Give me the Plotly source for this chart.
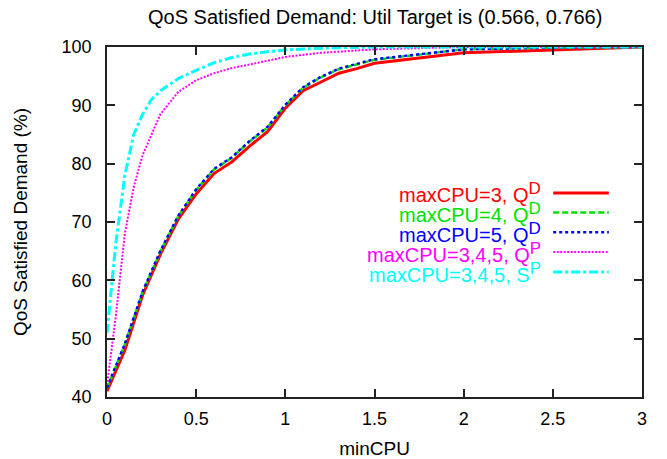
import plotly.graph_objects as go

# ---- data ----
x_d = [0, 0.1, 0.2, 0.3, 0.4, 0.5, 0.6, 0.7, 0.8, 0.9, 1.0, 1.1, 1.2, 1.3, 1.4, 1.5, 2.0, 2.5, 3.0]
red_qd3 = [41.0, 48.0, 57.5, 64.5, 70.5, 74.8, 78.3, 80.3, 83.0, 85.5, 89.5, 92.5, 94.0, 95.5, 96.3, 97.2, 99.0, 99.5, 100.0]
green_qd4 = [41.5, 49.0, 58.0, 65.0, 71.0, 75.5, 79.0, 81.0, 83.8, 86.2, 90.0, 93.0, 94.8, 96.2, 97.0, 97.8, 99.6, 99.9, 100.0]
blue_qd5 = [41.6, 49.1, 58.1, 65.1, 71.1, 75.6, 79.1, 81.1, 83.9, 86.3, 90.1, 93.1, 94.9, 96.3, 97.1, 97.9, 99.6, 99.9, 100.0]

x_p = [0, 0.02, 0.05, 0.1, 0.15, 0.2, 0.25, 0.3, 0.4, 0.5, 0.6, 0.7, 0.8, 0.9, 1.0, 1.2, 1.5, 2.0, 2.5, 3.0]
mag_qp = [42.0, 47.0, 54.0, 68.0, 76.0, 81.5, 85.0, 88.5, 92.3, 94.3, 95.5, 96.4, 97.0, 97.7, 98.3, 99.0, 99.6, 100.0, 100.0, 100.0]
cyan_sp = [51.0, 57.0, 66.5, 78.0, 85.0, 88.5, 91.0, 92.5, 94.6, 96.0, 97.3, 98.2, 98.8, 99.2, 99.5, 99.8, 100.0, 100.0, 100.0, 100.0]

x_ticks = [0, 0.5, 1, 1.5, 2, 2.5, 3]
x_tick_labels = ["0", "0.5", "1", "1.5", "2", "2.5", "3"]
y_ticks = [40, 50, 60, 70, 80, 90, 100]

SUP = "<sup><span style='font-size:17px'>{}</span></sup>"
names = ["maxCPU=3, Q" + SUP.format("D"), "maxCPU=4, Q" + SUP.format("D"), "maxCPU=5, Q" + SUP.format("D"),
         "maxCPU=3,4,5, Q" + SUP.format("P"), "maxCPU=3,4,5, S" + SUP.format("P")]
colors = ["#ff0000", "#00e000", "#0000ff", "#ff00ff", "#00ffff"]
dashes = ["solid", "6px,3px", "3px,3px", "2px,1.5px", "9px,3px,3px,3px"]
widths = [3, 2.5, 2.5, 2, 3]
series = [(x_d, red_qd3), (x_d, green_qd4), (x_d, blue_qd5), (x_p, mag_qp), (x_p, cyan_sp)]

FONT = "Liberation Sans, Arial, Helvetica, sans-serif"

fig = go.Figure()
for (xs, ys), n, c, d, w in zip(series, names, colors, dashes, widths):
    fig.add_trace(go.Scatter(x=xs, y=ys, mode="lines", name=n,
                             line=dict(color=c, dash=d, width=w), showlegend=False))

# legend drawn gnuplot style: right-aligned colored text, sample to the right
leg_y = [0.583, 0.527, 0.471, 0.414, 0.357]
for n, c, d, w, yy in zip(names, colors, dashes, widths, leg_y):
    fig.add_annotation(x=0.815, y=yy, xref="paper", yref="paper", text=n,
                       showarrow=False, xanchor="right", yanchor="middle",
                       font=dict(family=FONT, size=20, color=c))
    fig.add_shape(type="line", xref="paper", yref="paper", x0=0.834, x1=0.938,
                  y0=yy, y1=yy, line=dict(color=c, dash=d, width=w))

axis_common = dict(showline=True, linecolor="#222222", linewidth=1.5, mirror="allticks",
                   ticks="inside", ticklen=8, tickcolor="#222222", tickwidth=1.5,
                   showgrid=False, zeroline=False, automargin=False,
                   tickfont=dict(family=FONT, size=18, color="black"))

fig.update_layout(
    width=667, height=459,
    margin=dict(l=107, r=25, t=47, b=62),
    plot_bgcolor="white", paper_bgcolor="white",
    title=dict(text="QoS Satisfied Demand: Util Target is (0.566, 0.766)",
               x=0.5625, xanchor="center", y=0.963, yanchor="middle",
               font=dict(family=FONT, size=20, color="black")),
    xaxis=dict(range=[0, 3], tickvals=x_ticks, ticktext=x_tick_labels, ticklabelstandoff=5,
               title=dict(text="minCPU", font=dict(family=FONT, size=19, color="black"), standoff=13),
               **axis_common),
    yaxis=dict(range=[40, 100], tickvals=y_ticks, ticklabelstandoff=10,
               title=dict(text="QoS Satisfied Demand (%)", font=dict(family=FONT, size=19, color="black"), standoff=29),
               **axis_common),
)

fig.write_html("out.html", config={"displayModeBar": False},
               post_script="document.body.style.margin='0';")
